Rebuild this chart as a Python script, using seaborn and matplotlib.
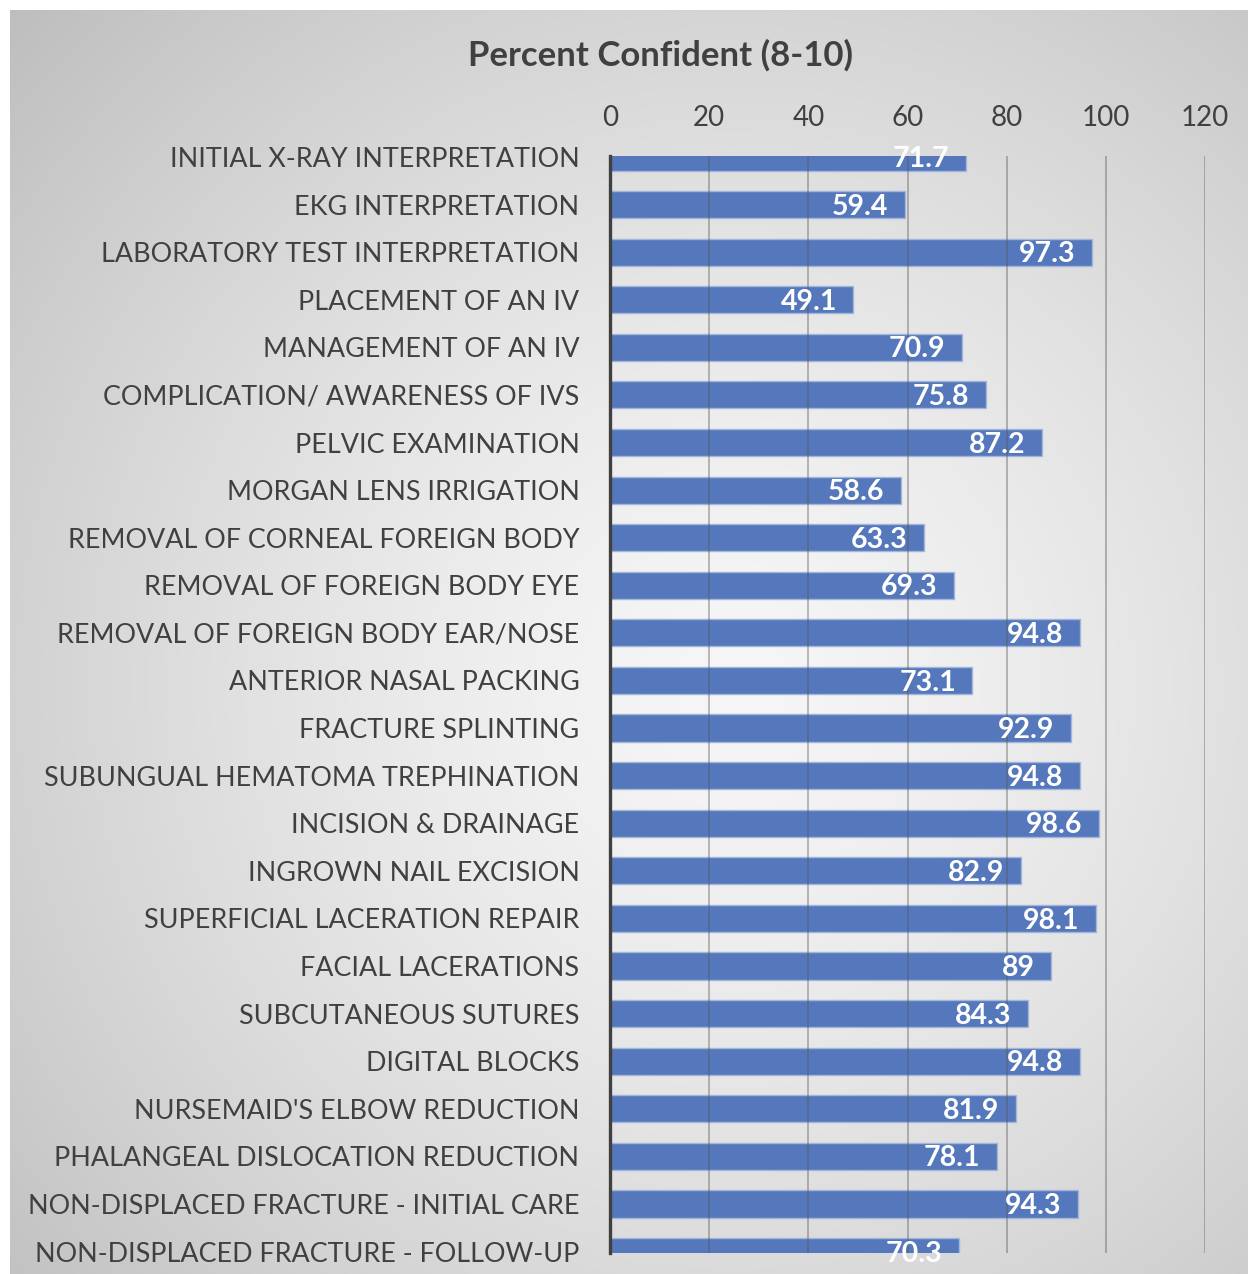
import numpy as np
import pandas as pd
import matplotlib
matplotlib.use("Agg")
import matplotlib.pyplot as plt
import seaborn as sns

categories = [
    "INITIAL X-RAY INTERPRETATION",
    "EKG INTERPRETATION",
    "LABORATORY TEST INTERPRETATION",
    "PLACEMENT OF AN IV",
    "MANAGEMENT OF AN IV",
    "COMPLICATION/ AWARENESS OF IVS",
    "PELVIC EXAMINATION",
    "MORGAN LENS IRRIGATION",
    "REMOVAL OF CORNEAL FOREIGN BODY",
    "REMOVAL OF FOREIGN BODY EYE",
    "REMOVAL OF FOREIGN BODY EAR/NOSE",
    "ANTERIOR NASAL PACKING",
    "FRACTURE SPLINTING",
    "SUBUNGUAL HEMATOMA TREPHINATION",
    "INCISION & DRAINAGE",
    "INGROWN NAIL EXCISION",
    "SUPERFICIAL LACERATION REPAIR",
    "FACIAL LACERATIONS",
    "SUBCUTANEOUS SUTURES",
    "DIGITAL BLOCKS",
    "NURSEMAID'S ELBOW REDUCTION",
    "PHALANGEAL DISLOCATION REDUCTION",
    "NON-DISPLACED FRACTURE - INITIAL CARE",
    "NON-DISPLACED FRACTURE - FOLLOW-UP",
]
values = [71.7, 59.4, 97.3, 49.1, 70.9, 75.8, 87.2, 58.6, 63.3, 69.3, 94.8, 73.1,
          92.9, 94.8, 98.6, 82.9, 98.1, 89, 84.3, 94.8, 81.9, 78.1, 94.3, 70.3]
value_labels = ["71.7", "59.4", "97.3", "49.1", "70.9", "75.8", "87.2", "58.6", "63.3",
                "69.3", "94.8", "73.1", "92.9", "94.8", "98.6", "82.9", "98.1", "89",
                "84.3", "94.8", "81.9", "78.1", "94.3", "70.3"]
x_ticks = [0, 20, 40, 60, 80, 100, 120]
title = "Percent Confident (8-10)"

df = pd.DataFrame({"task": categories, "pct": values})

sns.set_theme(style="white")
plt.rcParams["font.family"] = ["Lato", "DejaVu Sans"]

W, H = 1248, 1274
fig = plt.figure(figsize=(W / 100, H / 100), dpi=100)
fig.patch.set_facecolor("white")

# background gradient panel (white border at top and left)
bg = fig.add_axes([10 / W, 0, 1 - 10 / W, 1 - 10 / H], zorder=-10)
yy, xx = np.mgrid[0:600, 0:600]
cx, cy = 350, 320
r = np.sqrt(((xx - cx) / 430.0) ** 2 + ((yy - cy) / 420.0) ** 2)
img = 0.965 - 0.19 * np.clip(r, 0, 1.3) ** 1.4
bg.imshow(np.dstack([img, img, img]), aspect="auto", extent=[0, 1, 0, 1], origin="upper")
bg.set_axis_off()

left, right = 610 / W, 1205 / W
top, bottom = 1 - 156 / H, 1 - 1253 / H
ax = fig.add_axes([left, bottom, right - left, top - bottom])
ax.patch.set_alpha(0)

sns.barplot(data=df, y="task", x="pct", orient="h", color="#5577bb", saturation=1,
            width=0.57, edgecolor="#a3b5dc", linewidth=1.0, ax=ax, zorder=2)

ax.set_xlim(0, 120)
ax.set_ylim(23.03, -0.02)
ax.set_xticks(x_ticks)
ax.set_xticklabels([str(t) for t in x_ticks])
ax.xaxis.tick_top()
ax.set_xlabel("")
ax.set_ylabel("")

for xv in x_ticks[1:]:
    ax.axvline(xv, color="#555555", alpha=0.42, lw=1.3, zorder=3)

for s in ["top", "right", "bottom"]:
    ax.spines[s].set_visible(False)
ax.spines["left"].set_color("#404040")
ax.spines["left"].set_linewidth(2.4)
ax.spines["left"].set_zorder(4)

ax.tick_params(axis="x", length=0, pad=18, labelsize=20, labelcolor="#404040")
ax.tick_params(axis="y", length=0, pad=22, labelsize=19.4, labelcolor="#404040")

for i, (v, lab) in enumerate(zip(values, value_labels)):
    ax.annotate(lab, xy=(v, i), xytext=(-12, -1.5), textcoords="offset points",
                ha="right", va="center", color="white", fontweight="bold",
                fontsize=20.5, annotation_clip=False, zorder=5)

fig.text(0.5 + 36 / W, 1 - 55 / H, title, ha="center", va="center",
         fontsize=25, fontweight="bold", color="#404040")

fig.savefig("out.png", dpi=100)
